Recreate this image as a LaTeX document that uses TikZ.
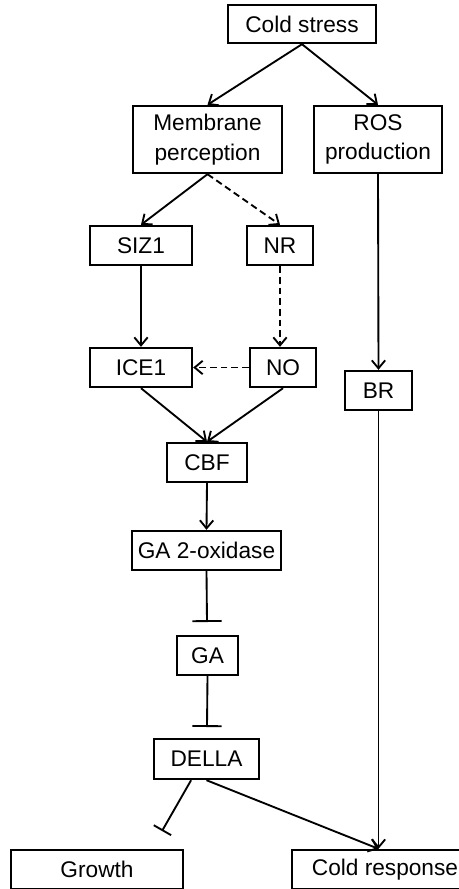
\documentclass[tikz,border=0pt]{standalone}
\usepackage{fontspec}
\setmainfont{Liberation Sans}
\usetikzlibrary{arrows.meta}
\tikzset{
  box/.style 2 args={
    draw, line width=1.8pt,
    align=center, inner sep=0,
    minimum width=#1*0.75pt,
    minimum height=#2*0.75pt,
    font=\fontsize{17}{22}\selectfont
  },
  act/.style={line width=1.4pt, -{Straight Barb[length=6pt,width=10pt]}},
  blk/.style={line width=1.4pt, -{Bar[width=#1]}},
  dsh/.style={act, dash pattern=on 5pt off 3pt}
}

\begin{document}
\begin{tikzpicture}[x=0.75pt,y=-0.75pt]
\useasboundingbox (0,0) rectangle (459,889);

%%%top
  \node[box={148}{38}] (cold) at (302,24) {Cold stress};
  \node[box={149}{67}] (memb) at (207.5,139.5) {Membrane\\perception};
  \node[box={128}{67}] (ros) at (378,139.5) {ROS\\production};

%%%left branch
  \node[box={102}{39}] (siz) at (141,245.5) {SIZ1};
  \node[box={66}{39}] (nr) at (280,245.5) {NR};
  \node[box={102}{39}] (ice) at (141,367.5) {ICE1};
  \node[box={66}{39}] (no) at (283,367.5) {NO};
  \node[box={67}{39}] (br) at (378.5,390.5) {BR};
  \node[box={80}{39}] (cbf) at (207,462.5) {CBF};
  \node[box={149}{39}] (gaox) at (206.5,550.5) {GA 2-oxidase};
  \node[box={61}{39}] (ga) at (207.5,655.5) {GA};
  \node[box={105}{40}] (della) at (206.5,759) {DELLA};

%%%bottom
  \node[box={172}{39}] (growth) at (97,869.5) {Growth};
  \node[box={186}{39}] (resp) at (385,869.5) {Cold response};

  \coordinate (bar1) at (207,622);
  \coordinate (bar2) at (207,727);
  \coordinate (bar3) at (162,831);
  \coordinate (join) at (br.south |- resp.north);

%%%connectors
  \draw[act] (cold.south) -- (memb.north);
  \draw[act] (cold.south) -- (ros.north);
  \draw[act] (memb.south) -- (siz.north);
  \draw[dsh] (memb.south) -- (nr.north);
  \draw[act] (siz.south) -- (ice.north);
  \draw[dsh] (nr.south) -- (nr.south |- no.north);
  \draw[dsh] (no.west) -- (ice.east);
  \draw[act] (ice.south) -- (cbf.north);
  \draw[act] (no.south) -- (cbf.north);
  \draw[act] (ros.south) -- (br.north);
  \draw[act] (cbf.south) -- (gaox.north);
  \draw[blk=22pt] (gaox.south) -- (bar1);
  \draw[blk=22pt] (ga.south) -- (bar2);
  \draw[blk=15pt] (della.-126) -- (bar3);
  \draw[act] (della.south) -- (join);
  \draw[act] (br.south) -- (join);

\end{tikzpicture}
\end{document}
